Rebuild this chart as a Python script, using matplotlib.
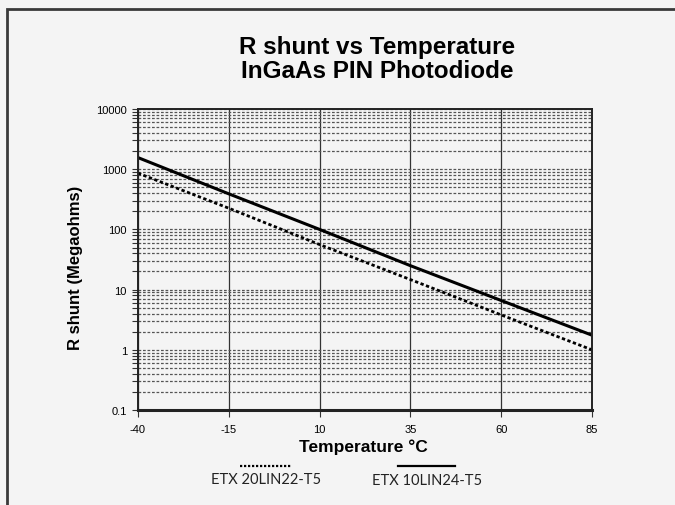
import numpy as np
import matplotlib.pyplot as plt
from matplotlib.lines import Line2D
from matplotlib.patches import Rectangle
from matplotlib.ticker import FixedLocator, LogLocator, NullFormatter

temperature = [-40, -15, 10, 35, 60, 85]
rshunt_10lin24 = [1560, 390, 100, 25, 6.6, 1.75]
rshunt_20lin22 = [860, 225, 56, 14.7, 3.8, 1.0]

x_ticks = [-40, -15, 10, 35, 60, 85]
y_ticks = [0.1, 1, 10, 100, 1000, 10000]
y_tick_labels = ['0.1', '1', '10', '100', '1000', '10000']

bg = '#f4f4f4'
plt.rcParams['font.family'] = ['Liberation Sans', 'DejaVu Sans']

fig = plt.figure(figsize=(6.75, 5.06), dpi=100, facecolor=bg)
ax = fig.add_axes([0.2044, 0.1877, 0.6726, 0.5949])
ax.set_facecolor(bg)

# page frame
fig.add_artist(Rectangle((7 / 675, -0.05), 1.1, 1 - 10 / 506 + 0.05,
                         transform=fig.transFigure, fill=False,
                         edgecolor='#3a3a3a', linewidth=2))

ax.set_yscale('log')
ax.set_xlim(-40, 85)
ax.set_ylim(0.1, 10000)

ax.set_xticks(x_ticks)
ax.set_xticklabels([str(t) for t in x_ticks])
ax.yaxis.set_major_locator(FixedLocator(y_ticks))
ax.set_yticklabels(y_tick_labels)
ax.yaxis.set_minor_locator(LogLocator(base=10, subs=np.arange(2, 10)))
ax.yaxis.set_minor_formatter(NullFormatter())

ax.grid(True, which='both', axis='y', color='#555555',
        linestyle=(0, (2.2, 1.4)), linewidth=0.9)
ax.grid(True, which='major', axis='x', color='#333333',
        linestyle='-', linewidth=0.9)

ax.tick_params(axis='both', which='both', direction='out', labelsize=8,
               color='#333333', width=0.8)
ax.tick_params(axis='x', which='major', length=5, pad=5)
ax.tick_params(axis='y', which='major', length=4, pad=4)
ax.tick_params(axis='y', which='minor', length=4)

for side in ['top', 'right', 'left']:
    ax.spines[side].set_linewidth(1.4)
    ax.spines[side].set_color('#222222')
ax.spines['bottom'].set_linewidth(2.2)
ax.spines['bottom'].set_color('#222222')

ax.plot(temperature, rshunt_20lin22, color='black', linewidth=2,
        linestyle=(0, (1.2, 0.9)))
ax.plot(temperature, rshunt_10lin24, color='black', linewidth=2.2,
        linestyle='-')

ax.set_ylabel('R shunt (Megaohms)', fontsize=12, fontweight='bold')
ax.yaxis.set_label_coords(-0.121, 0.475)
ax.set_xlabel('Temperature \u00b0C', fontsize=12.5, fontweight='bold')
ax.xaxis.set_label_coords(0.496, -0.095)

fig.text(0.5585, 1 - 59.5 / 506, 'R shunt vs Temperature\nInGaAs PIN Photodiode',
         ha='center', va='center', fontsize=17.5, fontweight='bold',
         linespacing=1.05)

# legend drawn by hand: sample line above each label
fig.add_artist(Line2D([240 / 675, 291 / 675], [1 - 467 / 506] * 2,
                      transform=fig.transFigure, color='black',
                      linewidth=1.6, linestyle=(0, (1, 0.8))))
fig.text(266 / 675, 1 - 480 / 506, 'ETX 20LIN22-T5', ha='center', va='center',
         fontsize=10.5, family=['Lato', 'DejaVu Sans'], color='#222222')
fig.add_artist(Line2D([398 / 675, 455 / 675], [1 - 467 / 506] * 2,
                      transform=fig.transFigure, color='black', linewidth=1.6))
fig.text(427 / 675, 1 - 481 / 506, 'ETX 10LIN24-T5', ha='center', va='center',
         fontsize=10.5, family=['Lato', 'DejaVu Sans'], color='#222222')

fig.savefig('out.png', dpi=100, facecolor=bg)
